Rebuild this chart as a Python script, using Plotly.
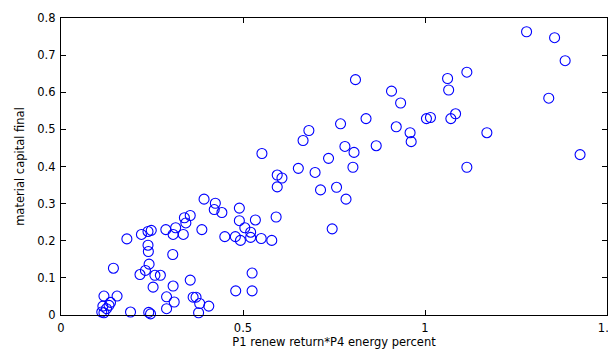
import plotly.graph_objects as go

# P1 renew return * P4 energy percent
x_vals = [1.279, 1.356, 1.385, 1.115, 1.062, 1.065, 0.908, 0.933, 1.340, 1.084,
          1.071, 1.004, 1.015, 0.921, 0.959, 0.962, 1.170, 0.866, 1.426, 1.115,
          0.809, 0.838, 0.768, 0.681, 0.665, 0.780, 0.805, 0.552, 0.735, 0.802,
          0.652, 0.698, 0.594, 0.607, 0.713, 0.757, 0.594, 0.783, 0.745, 0.591,
          0.534, 0.490, 0.490, 0.505, 0.521, 0.521, 0.550, 0.579, 0.493, 0.479,
          0.450, 0.525, 0.480, 0.525, 0.393, 0.424, 0.421, 0.442, 0.339, 0.355,
          0.343, 0.387, 0.181, 0.221, 0.239, 0.248, 0.288, 0.315, 0.308, 0.336,
          0.239, 0.240, 0.307, 0.144, 0.242, 0.232, 0.217, 0.258, 0.273, 0.355,
          0.253, 0.308, 0.118, 0.154, 0.290, 0.311, 0.363, 0.371, 0.381, 0.406,
          0.136, 0.115, 0.132, 0.125, 0.112, 0.118, 0.191, 0.241, 0.246, 0.290,
          0.378]
# material capital final
y_vals = [0.763, 0.747, 0.685, 0.654, 0.637, 0.606, 0.603, 0.571, 0.584, 0.542,
          0.529, 0.529, 0.532, 0.507, 0.491, 0.467, 0.491, 0.456, 0.432, 0.398,
          0.634, 0.529, 0.515, 0.497, 0.470, 0.454, 0.438, 0.435, 0.422, 0.398,
          0.395, 0.384, 0.377, 0.369, 0.337, 0.344, 0.345, 0.312, 0.232, 0.264,
          0.256, 0.288, 0.254, 0.235, 0.223, 0.209, 0.206, 0.201, 0.201, 0.211,
          0.211, 0.113, 0.065, 0.065, 0.312, 0.301, 0.284, 0.276, 0.262, 0.268,
          0.248, 0.230, 0.205, 0.217, 0.225, 0.228, 0.230, 0.235, 0.217, 0.217,
          0.188, 0.171, 0.163, 0.126, 0.137, 0.120, 0.109, 0.107, 0.107, 0.094,
          0.075, 0.078, 0.051, 0.051, 0.049, 0.035, 0.048, 0.048, 0.031, 0.024,
          0.034, 0.024, 0.026, 0.017, 0.008, 0.006, 0.008, 0.007, 0.003, 0.017,
          0.006]

x_ticks = [0, 0.5, 1, 1.5]
x_tick_labels = ["0", "0.5", "1", "1.5"]
y_ticks = [0, 0.1, 0.2, 0.3, 0.4, 0.5, 0.6, 0.7, 0.8]
y_tick_labels = ["0", "0.1", "0.2", "0.3", "0.4", "0.5", "0.6", "0.7", "0.8"]

FONT = "DejaVu Sans, Arial, sans-serif"

fig = go.Figure()
fig.add_trace(go.Scatter(
    x=x_vals, y=y_vals, mode="markers",
    marker=dict(symbol="circle-open", size=10, color="#0000ff",
                line=dict(width=1.1, color="#0000ff")),
    cliponaxis=False, showlegend=False,
))

axis_common = dict(
    showgrid=False, zeroline=False, showline=True, linecolor="black",
    linewidth=1.4, mirror="ticks", ticks="inside", ticklen=5, tickcolor="black",
    automargin=False, ticklabeloverflow="allow",
    tickfont=dict(family=FONT, size=11.5, color="black"),
)

# page body has an 8px default margin, so the figure is sized/offset for it
fig.update_layout(
    width=608, height=341,
    margin=dict(l=53, r=9, t=10, b=34),
    paper_bgcolor="white", plot_bgcolor="white",
    xaxis=dict(range=[0, 1.5], tickvals=x_ticks, ticktext=x_tick_labels,
               ticklabelstandoff=2,
               title=dict(text="P1 renew return*P4 energy percent", standoff=10,
                          font=dict(family=FONT, size=11.5, color="black")),
               **axis_common),
    yaxis=dict(range=[0, 0.8], tickvals=y_ticks, ticktext=y_tick_labels,
               ticklabelstandoff=2,
               title=dict(text="material capital final", standoff=10,
                          font=dict(family=FONT, size=11.5, color="black")),
               **axis_common),
)

fig.write_html("out.html")
